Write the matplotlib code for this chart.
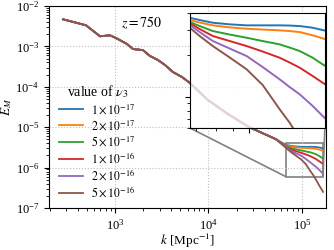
import matplotlib
matplotlib.use('Agg')
import matplotlib.pyplot as plt
from mpl_toolkits.axes_grid1.inset_locator import mark_inset
import numpy as np

plt.rcParams['font.family'] = ['Liberation Serif', 'DejaVu Serif']
plt.rcParams['mathtext.fontset'] = 'stix'

# shared low-k part of the spectrum (all curves overlap)
k_common = [278, 490, 692, 885, 1026, 1343, 1560, 1991, 2366, 2884, 3428,
            4169, 5212, 6339, 9886, 16180, 27100, 44360, 52500]
E_common = [4.69e-3, 3.33e-3, 1.78e-3, 1.88e-3, 1.61e-3, 1.15e-3, 8.6e-4,
            8.1e-4, 5.8e-4, 4.6e-4, 3.47e-4, 2.32e-4, 1.75e-4, 1.24e-4,
            4.7e-5, 2.12e-5, 1.01e-5, 6.05e-6, 5.07e-6]

# high-k part where the curves separate
k_branch = [66900, 71600, 78300, 87900, 98600, 110000, 123500, 132200,
            141600, 154700, 165500, 168000]
E_1e17 = [3.70e-6, 3.565e-6, 3.41e-6, 3.32e-6, 3.266e-6, 3.266e-6, 3.266e-6,
          3.255e-6, 3.228e-6, 3.139e-6, 3.022e-6, 2.997e-6]
E_2e17 = [3.565e-6, 3.421e-6, 3.266e-6, 3.159e-6, 3.087e-6, 3.047e-6,
          3.006e-6, 2.972e-6, 2.923e-6, 2.769e-6, 2.635e-6, 2.605e-6]
E_5e17 = [3.449e-6, 3.228e-6, 2.972e-6, 2.805e-6, 2.661e-6, 2.52e-6,
          2.386e-6, 2.263e-6, 2.136e-6, 1.913e-6, 1.715e-6, 1.681e-6]
E_1e16 = [3.376e-6, 3.072e-6, 2.737e-6, 2.52e-6, 2.32e-6, 2.119e-6,
          1.913e-6, 1.767e-6, 1.622e-6, 1.414e-6, 1.266e-6, 1.239e-6]
E_2e16 = [3.282e-6, 2.923e-6, 2.52e-6, 2.226e-6, 1.967e-6, 1.64e-6,
          1.339e-6, 1.179e-6, 1.045e-6, 8.62e-7, 7.31e-7, 7.07e-7]
E_5e16 = [3.139e-6, 2.737e-6, 2.32e-6, 1.919e-6, 1.58e-6, 1.219e-6,
          8.16e-7, 6.54e-7, 5.01e-7, 3.47e-7, 2.69e-7, 2.51e-7]

labels = [r'$1\times10^{-17}$', r'$2\times10^{-17}$', r'$5\times10^{-17}$',
          r'$1\times10^{-16}$', r'$2\times10^{-16}$', r'$5\times10^{-16}$']
series = [E_1e17, E_2e17, E_5e17, E_1e16, E_2e16, E_5e16]
colors = ['#1f77b4', '#ff7f0e', '#2ca02c', '#d62728', '#9467bd', '#8c564b']

fig = plt.figure(figsize=(3.34, 2.5), dpi=100)
ax = fig.add_axes([0.1467, 0.168, 0.8293, 0.808])

for E_b, c, lab in zip(series, colors, labels):
    ax.plot(k_common + k_branch, E_common + E_b, color=c, lw=1.3, label=lab)

ax.set_xscale('log')
ax.set_yscale('log')
ax.set_xlim(197, 1.81e5)
ax.set_ylim(1e-7, 1e-2)
ax.grid(True, which='major', ls=':', color='0.75', lw=0.8)
ax.tick_params(labelsize=9)
ax.set_xlabel(r'$k$ [Mpc$^{-1}$]', fontsize=9.5, labelpad=-0.5)
ax.set_ylabel(r'$E_M$', fontsize=9.5, labelpad=1)
ax.text(0.336, 0.916, r'$z=750$', transform=ax.transAxes,
        ha='center', va='center', fontsize=10)
leg = ax.legend(title=r'value of $\nu_3$', loc='center left',
                bbox_to_anchor=(0.012, 0.33), frameon=False, fontsize=8.5,
                title_fontsize=10, handletextpad=0.7, borderaxespad=0.2,
                labelspacing=0.2)
leg._legend_box.sep = 2

axins = ax.inset_axes([0.509, 0.396, 0.487, 0.569])
axins.set_facecolor((1, 1, 1, 0.75))
for E_b, c in zip(series, colors):
    axins.plot(k_common + k_branch, E_common + E_b, color=c, lw=1.4)
axins.set_xscale('log')
axins.set_yscale('log')
axins.set_xlim(6.7e4, 1.68e5)
axins.set_ylim(6.0e-7, 4.0e-6)
axins.tick_params(which='both', labelleft=False, labelbottom=False)
mark_inset(ax, axins, loc1=3, loc2=4, fc='none', ec='0.5', lw=1.2)

fig.savefig('out.png', dpi=100)
